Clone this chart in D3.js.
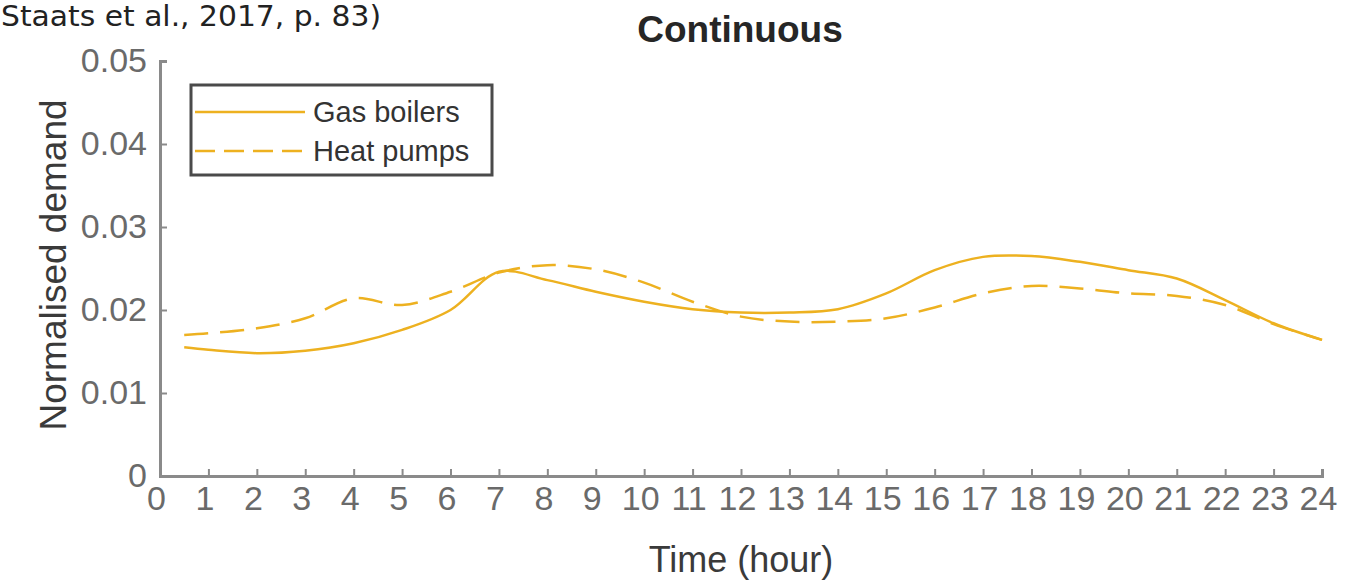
<!DOCTYPE html>
<html>
<head>
<meta charset="utf-8">
<script src="https://cdn.jsdelivr.net/npm/d3@7"></script>
<style>
  body { margin: 0; background: #fff; }
  svg { display: block; }
  .axis path, .axis line { stroke: #8a8a8a; }
  .axis text { fill: #6a6a6a; font-family: "Liberation Sans", Arial, sans-serif; }
</style>
</head>
<body>
<script>
// values (normalised demand per hour)
var hours = [0.5, 1, 2, 3, 4, 5, 6, 7, 8, 9, 10, 11, 12, 13, 14, 15, 16, 17, 18, 19, 20, 21, 22, 23, 24];
var gasBoilers = [0.0155, 0.0152, 0.0148, 0.0151, 0.0160, 0.0176, 0.0200, 0.0246, 0.0236, 0.0222,
                  0.0210, 0.0201, 0.0197, 0.0197, 0.0201, 0.0220, 0.0248, 0.0264, 0.0265, 0.0258,
                  0.0248, 0.0238, 0.0212, 0.0184, 0.0164];
var heatPumps = [0.0170, 0.0172, 0.0178, 0.0190, 0.0214, 0.0206, 0.0222, 0.0245, 0.0254, 0.0249,
                 0.0233, 0.0210, 0.0192, 0.0186, 0.0186, 0.0190, 0.0203, 0.0220, 0.0229, 0.0226,
                 0.0220, 0.0217, 0.0206, 0.0183, 0.0164];
var seriesNames = ["Gas boilers", "Heat pumps"];
var xTicks = d3.range(0, 25);
var yTicks = [0, 0.01, 0.02, 0.03, 0.04, 0.05];

var width = 1355, height = 585;
var lineColor = "#edb120";

var svg = d3.select("body").append("svg")
  .attr("width", width)
  .attr("height", height);

var x = d3.scaleLinear().domain([0, 24]).range([160, 1322]);
var y = d3.scaleLinear().domain([0, 0.05]).range([476, 61]);

// caption left over from the source page
svg.append("text")
  .attr("x", 1).attr("y", 26)
  .attr("textLength", 380)
  .attr("lengthAdjust", "spacingAndGlyphs")
  .style("font-family", "'DejaVu Sans', sans-serif")
  .style("font-size", "29px")
  .style("fill", "#222")
  .text("Staats et al., 2017, p. 83)");

svg.append("text")
  .attr("x", 740).attr("y", 42)
  .attr("text-anchor", "middle")
  .style("font-family", "'Liberation Sans', Arial, sans-serif")
  .style("font-weight", "bold")
  .style("font-size", "37px")
  .style("fill", "#262626")
  .text("Continuous");

// axes, ticks point inwards like matlab
var xAxis = d3.axisBottom(x).tickValues(xTicks).tickSize(-7).tickPadding(10).tickFormat(d3.format("d"));
var yAxis = d3.axisLeft(y).tickValues(yTicks).tickSize(-7).tickPadding(13)
  .tickFormat(function(d) { return d === 0 ? "0" : d3.format(".2f")(d); });

svg.append("g")
  .attr("class", "axis")
  .attr("transform", "translate(0," + y(0) + ")")
  .call(xAxis)
  .call(function(g) { g.select(".domain").attr("stroke-width", 3); })
  .call(function(g) { g.selectAll("line").attr("stroke-width", 2); })
  .selectAll("text").style("font-size", "34px").attr("dx", "-4");

svg.append("g")
  .attr("class", "axis")
  .attr("transform", "translate(" + x(0) + ",0)")
  .call(yAxis)
  .call(function(g) { g.select(".domain").attr("stroke-width", 3); })
  .call(function(g) { g.selectAll("line").attr("stroke-width", 2); })
  .selectAll("text").style("font-size", "34px");

svg.append("text")
  .attr("transform", "translate(66,265) rotate(-90)")
  .attr("text-anchor", "middle")
  .style("font-family", "'Liberation Sans', Arial, sans-serif")
  .style("font-size", "37px")
  .style("fill", "#3a3a3a")
  .text("Normalised demand");

svg.append("text")
  .attr("x", 741).attr("y", 572)
  .attr("text-anchor", "middle")
  .style("font-family", "'Liberation Sans', Arial, sans-serif")
  .style("font-size", "36px")
  .style("fill", "#3a3a3a")
  .text("Time (hour)");

var line = d3.line()
  .x(function(d, i) { return x(hours[i]); })
  .y(function(d) { return y(d); })
  .curve(d3.curveCatmullRom);

svg.append("path")
  .datum(gasBoilers)
  .attr("d", line)
  .attr("fill", "none")
  .attr("stroke", lineColor)
  .attr("stroke-width", 2.5);

svg.append("path")
  .datum(heatPumps)
  .attr("d", line)
  .attr("fill", "none")
  .attr("stroke", lineColor)
  .attr("stroke-width", 2.5)
  .attr("stroke-dasharray", "24,12");

// legend
var legend = svg.append("g").attr("transform", "translate(191,85)");
legend.append("rect")
  .attr("width", 301).attr("height", 90)
  .attr("fill", "#fff")
  .attr("stroke", "#4a4a4a")
  .attr("stroke-width", 3);

legend.selectAll(".item").data(seriesNames).enter()
  .append("g")
  .attr("transform", function(d, i) { return "translate(0," + (27 + i * 39) + ")"; })
  .each(function(d, i) {
    var g = d3.select(this);
    g.append("line")
      .attr("x1", 4).attr("x2", 114)
      .attr("stroke", lineColor)
      .attr("stroke-width", 2.5)
      .attr("stroke-dasharray", i === 1 ? "20,9" : null);
    g.append("text")
      .attr("x", 122).attr("y", 10)
      .style("font-family", "'Liberation Sans', Arial, sans-serif")
      .style("font-size", "29px")
      .style("fill", "#333")
      .text(d);
  });
</script>
</body>
</html>
